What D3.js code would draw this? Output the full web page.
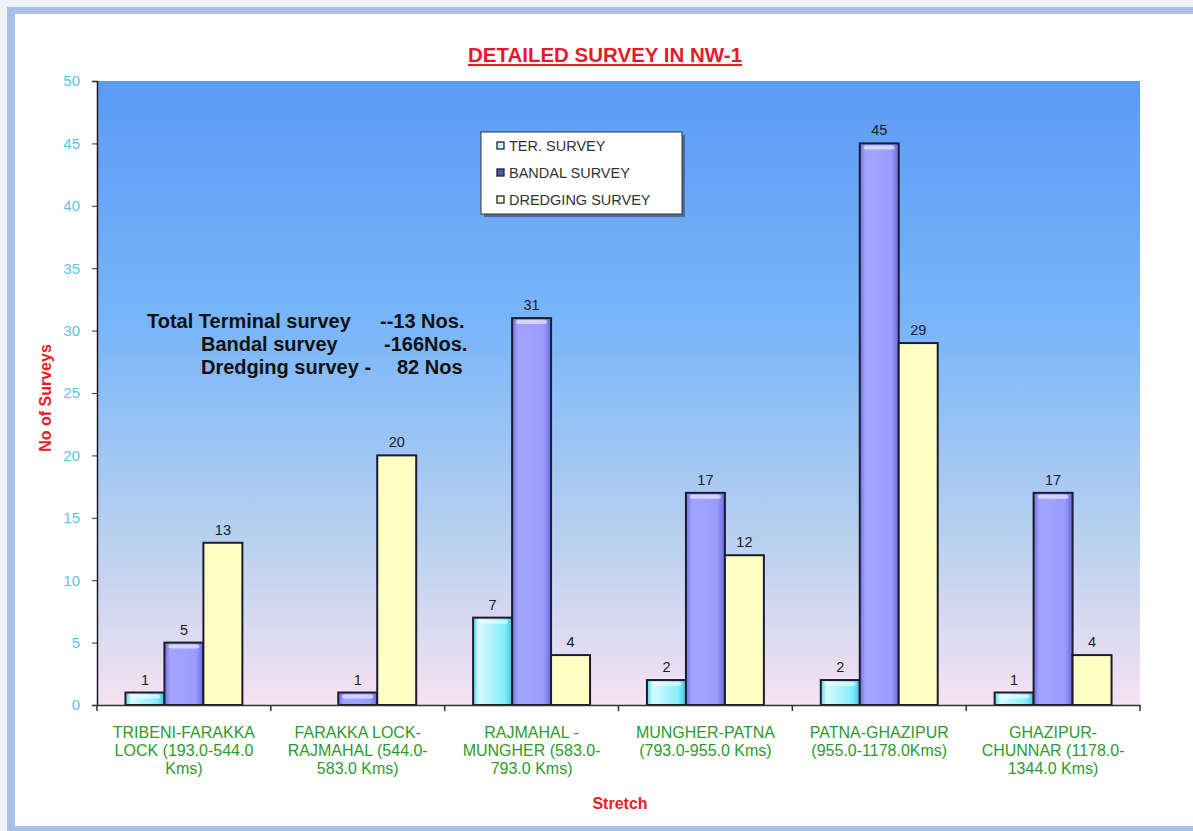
<!DOCTYPE html>
<html>
<head>
<meta charset="utf-8">
<script src="https://cdn.jsdelivr.net/npm/d3@7"></script>
<style>
  body { margin: 0; background: #eef1f5; }
  svg { display: block; font-family: "Liberation Sans", Arial, sans-serif; }
</style>
</head>
<body>
<svg width="1193" height="831"></svg>
<script>
// chart values
const categories = [
  ["TRIBENI-FARAKKA", "LOCK (193.0-544.0", "Kms)"],
  ["FARAKKA LOCK-", "RAJMAHAL (544.0-", "583.0 Kms)"],
  ["RAJMAHAL -", "MUNGHER (583.0-", "793.0 Kms)"],
  ["MUNGHER-PATNA", "(793.0-955.0  Kms)"],
  ["PATNA-GHAZIPUR", "(955.0-1178.0Kms)"],
  ["GHAZIPUR-", "CHUNNAR  (1178.0-", "1344.0 Kms)"]
];
const seriesNames = ["TER. SURVEY", "BANDAL SURVEY", "DREDGING  SURVEY"];
const terSurvey = [1, null, 7, 2, 2, 1];
const bandalSurvey = [5, 1, 31, 17, 45, 17];
const dredgingSurvey = [13, 20, 4, 12, 29, 4];
const yTicks = [0, 5, 10, 15, 20, 25, 30, 35, 40, 45, 50];
const totals = [
  ["Total Terminal survey", "--13 Nos."],
  ["Bandal survey", "-166Nos."],
  ["Dredging survey -", "82 Nos"]
];

const svg = d3.select("svg");
const defs = svg.append("defs");

// frame
svg.append("rect").attr("x", 7).attr("y", 7).attr("width", 1200).attr("height", 830).attr("fill", "#a9c1e7");
svg.append("rect").attr("x", 15).attr("y", 14).attr("width", 1190).attr("height", 812).attr("fill", "#ffffff");

const margin = {left: 97, right: 1140, top: 81, bottom: 705};

const x0 = d3.scaleBand().domain(d3.range(categories.length)).range([margin.left, margin.right]).paddingInner(0).paddingOuter(0);
const x1 = d3.scaleBand().domain([0, 1, 2]).range([0, x0.bandwidth()]).paddingOuter(0.73).paddingInner(0);
const y = d3.scaleLinear().domain([0, 50]).range([margin.bottom, margin.top]);

// plot background gradient
const bg = defs.append("linearGradient").attr("id", "bg").attr("x1", 0).attr("y1", 0).attr("x2", 0).attr("y2", 1);
bg.append("stop").attr("offset", "0%").attr("stop-color", "#5a9bf7");
bg.append("stop").attr("offset", "40%").attr("stop-color", "#7ab6f8");
bg.append("stop").attr("offset", "75%").attr("stop-color", "#bcd2ef");
bg.append("stop").attr("offset", "100%").attr("stop-color", "#f6e2f2");

svg.append("rect")
  .attr("x", margin.left).attr("y", margin.top)
  .attr("width", margin.right - margin.left).attr("height", margin.bottom - margin.top)
  .attr("fill", "url(#bg)");

// bar gradients (horizontal shading like the original)
const barColors = [
  ["#4fd8ee", "#d8fbff", "#86ecfb", "#3fc8e0"],
  ["#6f6fe0", "#a3a3ff", "#9c9cff", "#6a6ad8"],
  ["#ffffc4", "#ffffc4", "#ffffc4", "#ffffc4"]
];
const swatch = ["#bff3fb", "#5555aa", "#ffffc0"];
barColors.forEach(function(c, i) {
  const g = defs.append("linearGradient").attr("id", "bar" + i).attr("x1", 0).attr("x2", 1).attr("y1", 0).attr("y2", 0);
  g.append("stop").attr("offset", "0%").attr("stop-color", c[0]);
  g.append("stop").attr("offset", "15%").attr("stop-color", c[1]);
  g.append("stop").attr("offset", "80%").attr("stop-color", c[2]);
  g.append("stop").attr("offset", "100%").attr("stop-color", c[3]);
});

// title
svg.append("text")
  .attr("x", 605).attr("y", 62)
  .attr("text-anchor", "middle")
  .attr("font-size", 20.5).attr("font-weight", "bold")
  .attr("fill", "#e8192c")
  .attr("text-decoration", "underline")
  .text("DETAILED SURVEY IN NW-1");

// y axis
const yAxis = d3.axisLeft(y).tickValues(yTicks).tickSize(5).tickPadding(12);
const gy = svg.append("g").attr("transform", "translate(" + margin.left + ",0)").call(yAxis);
gy.select(".domain").attr("stroke", "#1a1a2a").attr("stroke-width", 1.5);
gy.selectAll(".tick line").attr("stroke", "#333");
gy.selectAll(".tick text").attr("fill", "#5cc6e6").attr("font-size", 15).attr("font-family", "Liberation Sans, Arial");

svg.append("text")
  .attr("transform", "translate(51," + ((margin.top + margin.bottom) / 2 + 5) + ") rotate(-90)")
  .attr("text-anchor", "middle")
  .attr("font-size", 16).attr("font-weight", "bold")
  .attr("fill", "#ee1c25")
  .text("No of Surveys");

// bars
const series = [terSurvey, bandalSurvey, dredgingSurvey];
series.forEach(function(vals, si) {
  const g = svg.append("g");
  const data = vals.map(function(v, i) { return {i: i, v: v}; }).filter(function(d) { return d.v != null; });
  g.selectAll("rect")
    .data(data)
    .enter().append("rect")
    .attr("x", function(d) { return x0(d.i) + x1(si); })
    .attr("y", function(d) { return y(d.v); })
    .attr("width", x1.bandwidth())
    .attr("height", function(d) { return y(0) - y(d.v); })
    .attr("fill", "url(#bar" + si + ")")
    .attr("stroke", "#1c1c2e").attr("stroke-width", 2);
  // small highlight at bar tops
  if (si < 2) {
    g.selectAll(".hl")
      .data(data.filter(function(d) { return y(0) - y(d.v) > 8; }))
      .enter().append("rect")
      .attr("x", function(d) { return x0(d.i) + x1(si) + 4; })
      .attr("y", function(d) { return y(d.v) + 2; })
      .attr("width", x1.bandwidth() - 8)
      .attr("height", 4)
      .attr("rx", 2)
      .attr("fill", "#ffffff").attr("opacity", 0.55);
  }
  g.selectAll(".lbl")
    .data(data)
    .enter().append("text")
    .attr("x", function(d) { return x0(d.i) + x1(si) + x1.bandwidth() / 2; })
    .attr("y", function(d) { return y(d.v) - 8; })
    .attr("text-anchor", "middle")
    .attr("font-size", 14.5)
    .attr("fill", "#1a1a2a")
    .text(function(d) { return d.v; });
});

// x axis
const xAxis = d3.axisBottom(x0).tickSize(0).tickFormat("");
const gx = svg.append("g").attr("transform", "translate(0," + margin.bottom + ")").call(xAxis);
gx.select(".domain").attr("stroke", "#333").attr("stroke-width", 1.5);
const bounds = d3.range(categories.length + 1).map(function(i) { return margin.left + i * x0.bandwidth(); });
gx.selectAll(".bt").data(bounds).enter().append("line")
  .attr("x1", function(d) { return d; }).attr("x2", function(d) { return d; })
  .attr("y1", 0).attr("y2", 6)
  .attr("stroke", "#333").attr("stroke-width", 1.5);

const labels = svg.append("g");
categories.forEach(function(lines, i) {
  const t = labels.append("text")
    .attr("x", x0(i) + x0.bandwidth() / 2)
    .attr("y", 738)
    .attr("text-anchor", "middle")
    .attr("font-size", 16)
    .attr("fill", "#2e9a2e");
  lines.forEach(function(l, k) {
    t.append("tspan").attr("x", x0(i) + x0.bandwidth() / 2).attr("dy", k === 0 ? 0 : 18).text(l);
  });
});

svg.append("text")
  .attr("x", 620).attr("y", 809)
  .attr("text-anchor", "middle")
  .attr("font-size", 16).attr("font-weight", "bold")
  .attr("fill", "#ee1c25")
  .text("Stretch");

// legend
const legend = svg.append("g").attr("transform", "translate(481,132)");
legend.append("rect").attr("x", 3).attr("y", 3).attr("width", 201).attr("height", 82).attr("fill", "#333").attr("opacity", 0.5);
legend.append("rect").attr("width", 201).attr("height", 82).attr("fill", "#ffffff").attr("stroke", "#333").attr("stroke-width", 1);
seriesNames.forEach(function(n, i) {
  const ly = 14 + i * 27;
  legend.append("rect").attr("x", 16).attr("y", ly - 4).attr("width", 7).attr("height", 7)
    .attr("fill", swatch[i]).attr("stroke", "#223").attr("stroke-width", 1.3);
  legend.append("text").attr("x", 28).attr("y", ly + 5)
    .attr("font-size", 14.5).attr("fill", "#333").text(n);
});

// totals annotation
const ann = svg.append("g").attr("font-size", 20).attr("font-weight", "bold").attr("fill", "#111");
const annX = [[147, 380], [201, 384], [201, 397]];
totals.forEach(function(r, i) {
  ann.append("text").attr("x", annX[i][0]).attr("y", 328 + i * 23).text(r[0]);
  ann.append("text").attr("x", annX[i][1]).attr("y", 328 + i * 23).text(r[1]);
});
</script>
</body>
</html>
